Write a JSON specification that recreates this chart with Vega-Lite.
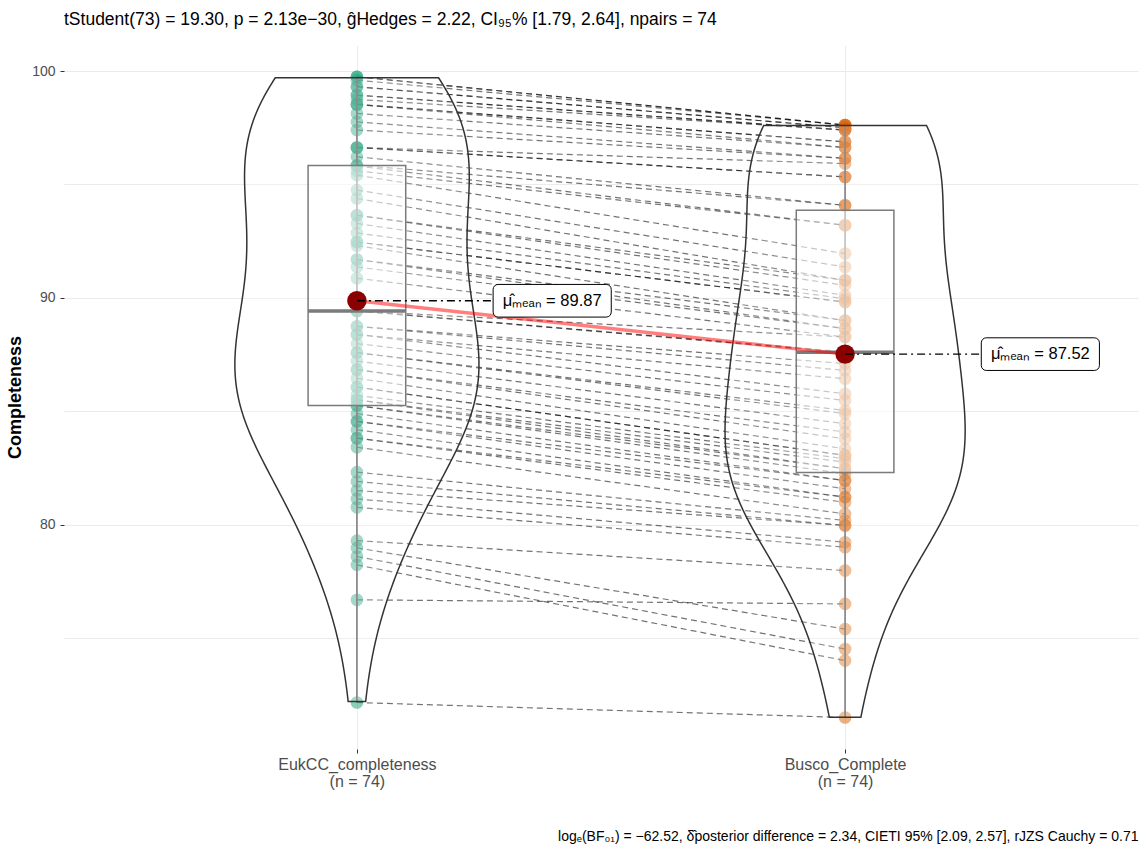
{
 "$schema": "https://vega.github.io/schema/vega-lite/v6.json",
 "width": 1074,
 "height": 704,
 "autosize": {"type": "none"},
 "padding": {"left": 64, "top": 45, "right": 9, "bottom": 110},
 "background": "white",
 "config": {"font": "Liberation Sans", "view": {"stroke": null}},
 "title": {"text": "tStudent(73) = 19.30, p = 2.13e−30, ĝHedges = 2.22, CI₉₅% [1.79, 2.64], npairs = 74", "anchor": "start", "frame": "group", "fontSize": 17.5, "fontWeight": "normal", "color": "black", "offset": 17},
 "data": {"values": [
  {"id":1,"EukCC_completeness":99.75,"Busco_Complete":97.62},
  {"id":2,"EukCC_completeness":99.75,"Busco_Complete":97.62},
  {"id":3,"EukCC_completeness":99.6,"Busco_Complete":97.62},
  {"id":4,"EukCC_completeness":99.31,"Busco_Complete":97.5},
  {"id":5,"EukCC_completeness":99.31,"Busco_Complete":97.5},
  {"id":6,"EukCC_completeness":98.94,"Busco_Complete":97.4},
  {"id":7,"EukCC_completeness":98.94,"Busco_Complete":97.4},
  {"id":8,"EukCC_completeness":98.75,"Busco_Complete":97.4},
  {"id":9,"EukCC_completeness":98.53,"Busco_Complete":96.88},
  {"id":10,"EukCC_completeness":98.53,"Busco_Complete":96.88},
  {"id":11,"EukCC_completeness":98.53,"Busco_Complete":96.63},
  {"id":12,"EukCC_completeness":98.13,"Busco_Complete":96.63},
  {"id":13,"EukCC_completeness":97.76,"Busco_Complete":96.15},
  {"id":14,"EukCC_completeness":97.4,"Busco_Complete":96.15},
  {"id":15,"EukCC_completeness":96.63,"Busco_Complete":95.92},
  {"id":16,"EukCC_completeness":96.63,"Busco_Complete":95.33},
  {"id":17,"EukCC_completeness":96.63,"Busco_Complete":95.33},
  {"id":18,"EukCC_completeness":96.22,"Busco_Complete":94.08},
  {"id":19,"EukCC_completeness":95.85,"Busco_Complete":94.08},
  {"id":20,"EukCC_completeness":95.81,"Busco_Complete":93.2},
  {"id":21,"EukCC_completeness":95.6,"Busco_Complete":93.2},
  {"id":22,"EukCC_completeness":95.41,"Busco_Complete":91.95},
  {"id":23,"EukCC_completeness":94.75,"Busco_Complete":91.36},
  {"id":24,"EukCC_completeness":94.38,"Busco_Complete":90.77},
  {"id":25,"EukCC_completeness":93.64,"Busco_Complete":90.77},
  {"id":26,"EukCC_completeness":93.64,"Busco_Complete":90.55},
  {"id":27,"EukCC_completeness":93.28,"Busco_Complete":90.11},
  {"id":28,"EukCC_completeness":92.86,"Busco_Complete":89.96},
  {"id":29,"EukCC_completeness":92.46,"Busco_Complete":89.81},
  {"id":30,"EukCC_completeness":92.46,"Busco_Complete":89.81},
  {"id":31,"EukCC_completeness":92.3,"Busco_Complete":89.0},
  {"id":32,"EukCC_completeness":91.69,"Busco_Complete":89.0},
  {"id":33,"EukCC_completeness":91.69,"Busco_Complete":88.64},
  {"id":34,"EukCC_completeness":91.36,"Busco_Complete":88.64},
  {"id":35,"EukCC_completeness":90.86,"Busco_Complete":88.27},
  {"id":36,"EukCC_completeness":89.42,"Busco_Complete":88.27},
  {"id":37,"EukCC_completeness":89.42,"Busco_Complete":87.62},
  {"id":38,"EukCC_completeness":89.42,"Busco_Complete":87.58},
  {"id":39,"EukCC_completeness":88.74,"Busco_Complete":87.1},
  {"id":40,"EukCC_completeness":88.74,"Busco_Complete":86.8},
  {"id":41,"EukCC_completeness":88.38,"Busco_Complete":86.43},
  {"id":42,"EukCC_completeness":88.38,"Busco_Complete":85.77},
  {"id":43,"EukCC_completeness":87.98,"Busco_Complete":85.47},
  {"id":44,"EukCC_completeness":87.58,"Busco_Complete":85.03},
  {"id":45,"EukCC_completeness":87.58,"Busco_Complete":84.89},
  {"id":46,"EukCC_completeness":87.21,"Busco_Complete":84.45},
  {"id":47,"EukCC_completeness":86.83,"Busco_Complete":84.08},
  {"id":48,"EukCC_completeness":86.83,"Busco_Complete":83.78},
  {"id":49,"EukCC_completeness":86.45,"Busco_Complete":83.34},
  {"id":50,"EukCC_completeness":86.06,"Busco_Complete":83.05},
  {"id":51,"EukCC_completeness":86.06,"Busco_Complete":83.05},
  {"id":52,"EukCC_completeness":85.7,"Busco_Complete":82.9},
  {"id":53,"EukCC_completeness":85.5,"Busco_Complete":82.75},
  {"id":54,"EukCC_completeness":85.5,"Busco_Complete":82.46},
  {"id":55,"EukCC_completeness":85.25,"Busco_Complete":82.46},
  {"id":56,"EukCC_completeness":85.25,"Busco_Complete":82.24},
  {"id":57,"EukCC_completeness":84.89,"Busco_Complete":81.94},
  {"id":58,"EukCC_completeness":84.55,"Busco_Complete":81.94},
  {"id":59,"EukCC_completeness":84.55,"Busco_Complete":81.58},
  {"id":60,"EukCC_completeness":84.18,"Busco_Complete":81.21},
  {"id":61,"EukCC_completeness":83.81,"Busco_Complete":81.21},
  {"id":62,"EukCC_completeness":83.81,"Busco_Complete":80.98},
  {"id":63,"EukCC_completeness":83.41,"Busco_Complete":80.47},
  {"id":64,"EukCC_completeness":82.31,"Busco_Complete":80.18},
  {"id":65,"EukCC_completeness":81.9,"Busco_Complete":79.96},
  {"id":66,"EukCC_completeness":81.5,"Busco_Complete":79.96},
  {"id":67,"EukCC_completeness":81.13,"Busco_Complete":79.22},
  {"id":68,"EukCC_completeness":80.76,"Busco_Complete":79.0},
  {"id":69,"EukCC_completeness":79.29,"Busco_Complete":77.97},
  {"id":70,"EukCC_completeness":78.97,"Busco_Complete":75.39},
  {"id":71,"EukCC_completeness":78.59,"Busco_Complete":74.51},
  {"id":72,"EukCC_completeness":78.22,"Busco_Complete":74.0},
  {"id":73,"EukCC_completeness":76.68,"Busco_Complete":76.5},
  {"id":74,"EukCC_completeness":72.15,"Busco_Complete":71.49}
 ]},
 "transform": [
  {"fold": ["EukCC_completeness", "Busco_Complete"], "as": ["group", "value"]},
  {"calculate": "datum.group == 'EukCC_completeness' ? 1 : 2", "as": "pos"}
 ],
 "layer": [
  {
   "mark": {"type": "line", "strokeDash": [6, 4], "color": "#000000", "opacity": 0.55, "strokeWidth": 1.2},
   "encoding": {
    "x": {"field": "pos", "type": "quantitative",
          "scale": {"domain": [0.4, 2.6], "nice": false, "zero": false},
          "axis": {"values": [1, 2],
                   "labelExpr": "datum.value == 1 ? ['EukCC_completeness', '(n = 74)'] : ['Busco_Complete', '(n = 74)']",
                   "title": "logₑ(BF₀₁) = −62.52, δ̂posterior difference = 2.34, CIETI 95% [2.09, 2.57], rJZS Cauchy = 0.71",
                   "titleAnchor": "end", "titleFontWeight": "normal", "titleFontSize": 14, "titleColor": "black", "titlePadding": 40,
                   "domain": false, "ticks": true, "tickColor": "#333333", "tickSize": 4,
                   "labelFontSize": 16, "labelColor": "#4D4D4D", "labelLineHeight": 17, "labelPadding": 3,
                   "grid": true, "gridColor": "#EBEBEB"}},
    "y": {"field": "value", "type": "quantitative", "title": "Completeness",
          "scale": {"domain": [70.1, 101.15], "nice": false, "zero": false},
          "axis": {"values": [75, 80, 85, 90, 95, 100],
                   "labelExpr": "datum.value % 10 == 0 ? datum.label : ''",
                   "tickOpacity": {"condition": {"test": "datum.value % 10 != 0", "value": 0}, "value": 1},
                   "domain": false, "tickColor": "#333333", "tickSize": 4,
                   "labelFontSize": 14, "labelColor": "#4D4D4D", "labelPadding": 5,
                   "grid": true, "gridColor": "#EBEBEB",
                   "titleFontSize": 18, "titleFontWeight": "bold", "titleColor": "black", "titlePadding": 7}},
    "detail": {"field": "id", "type": "nominal"}
   }
  },
  {
   "mark": {"type": "circle", "size": 160, "opacity": 0.5, "strokeWidth": 0},
   "encoding": {
    "x": {"field": "pos", "type": "quantitative"},
    "y": {"field": "value", "type": "quantitative"},
    "color": {"field": "group", "type": "nominal",
              "scale": {"domain": ["EukCC_completeness", "Busco_Complete"], "range": ["#1B9E77", "#D95F02"]},
              "legend": null}
   }
  },
  {
   "transform": [
    {"aggregate": [
      {"op": "q1", "field": "value", "as": "q1"},
      {"op": "q3", "field": "value", "as": "q3"},
      {"op": "median", "field": "value", "as": "med"},
      {"op": "min", "field": "value", "as": "lo"},
      {"op": "max", "field": "value", "as": "hi"}],
     "groupby": ["group", "pos"]},
    {"calculate": "datum.pos - 0.1", "as": "bl"},
    {"calculate": "datum.pos + 0.1", "as": "br"}
   ],
   "layer": [
    {
     "mark": {"type": "rule", "color": "#707070", "strokeWidth": 1.8},
     "encoding": {
      "x": {"field": "pos", "type": "quantitative"},
      "y": {"field": "lo", "type": "quantitative"},
      "y2": {"field": "hi"}
     }
    },
    {
     "mark": {"type": "rect", "fill": "white", "fillOpacity": 0.5, "stroke": "#5A5A5A", "strokeWidth": 1.5},
     "encoding": {
      "x": {"field": "bl", "type": "quantitative"},
      "x2": {"field": "br"},
      "y": {"field": "q1", "type": "quantitative"},
      "y2": {"field": "q3"}
     }
    },
    {
     "mark": {"type": "rule", "color": "#5A5A5A", "strokeWidth": 3.5},
     "encoding": {
      "x": {"field": "bl", "type": "quantitative"},
      "x2": {"field": "br"},
      "y": {"field": "med", "type": "quantitative"}
     }
    }
   ]
  },
  {
   "transform": [
    {"joinaggregate": [{"op": "min", "field": "value", "as": "gmin"}, {"op": "max", "field": "value", "as": "gmax"}], "groupby": ["group"]},
    {"density": "value", "groupby": ["group", "pos", "gmin", "gmax"], "extent": [70, 100], "steps": 601, "bandwidth": 3.3},
    {"filter": "datum.value >= datum.gmin - 0.0001 && datum.value <= datum.gmax + 0.0001"},
    {"joinaggregate": [{"op": "max", "field": "density", "as": "maxd"}]},
    {"calculate": "datum.pos - 0.25 * datum.density / datum.maxd", "as": "vl"},
    {"calculate": "datum.pos + 0.25 * datum.density / datum.maxd", "as": "vr"}
   ],
   "mark": {"type": "area", "orient": "horizontal", "fill": "white", "fillOpacity": 0.2, "stroke": "#333333", "strokeWidth": 1.5},
   "encoding": {
    "y": {"field": "value", "type": "quantitative"},
    "x": {"field": "vl", "type": "quantitative"},
    "x2": {"field": "vr"},
    "detail": {"field": "group", "type": "nominal"}
   }
  },
  {
   "transform": [
    {"aggregate": [{"op": "mean", "field": "value", "as": "m"}], "groupby": ["group", "pos"]},
    {"calculate": "datum.pos + 0.279", "as": "rl"},
    {"calculate": "datum.pos + 0.521", "as": "rr"},
    {"calculate": "datum.pos + 0.4", "as": "lx"},
    {"calculate": "datum.m - 0.72", "as": "yb"},
    {"calculate": "datum.m + 0.72", "as": "yt"},
    {"calculate": "'μ̂ₘₑₐₙ = ' + format(datum.m, '.2f')", "as": "lab"}
   ],
   "layer": [
    {
     "mark": {"type": "line", "color": "red", "opacity": 0.5, "strokeWidth": 3.3},
     "encoding": {
      "x": {"field": "pos", "type": "quantitative"},
      "y": {"field": "m", "type": "quantitative"}
     }
    },
    {
     "mark": {"type": "circle", "size": 380, "color": "#8B0000", "opacity": 1},
     "encoding": {
      "x": {"field": "pos", "type": "quantitative"},
      "y": {"field": "m", "type": "quantitative"}
     }
    },
    {
     "mark": {"type": "rule", "color": "black", "strokeWidth": 1.3, "strokeDash": [8, 4, 2, 4]},
     "encoding": {
      "x": {"field": "pos", "type": "quantitative"},
      "x2": {"field": "rl"},
      "y": {"field": "m", "type": "quantitative"}
     }
    },
    {
     "mark": {"type": "rect", "fill": "white", "stroke": "black", "strokeWidth": 1, "cornerRadius": 5},
     "encoding": {
      "x": {"field": "rl", "type": "quantitative"},
      "x2": {"field": "rr"},
      "y": {"field": "yb", "type": "quantitative"},
      "y2": {"field": "yt"}
     }
    },
    {
     "mark": {"type": "text", "fontSize": 16.5, "color": "black", "align": "center", "baseline": "middle"},
     "encoding": {
      "x": {"field": "lx", "type": "quantitative"},
      "y": {"field": "m", "type": "quantitative"},
      "text": {"field": "lab", "type": "nominal"}
     }
    }
   ]
  }
 ]
}
